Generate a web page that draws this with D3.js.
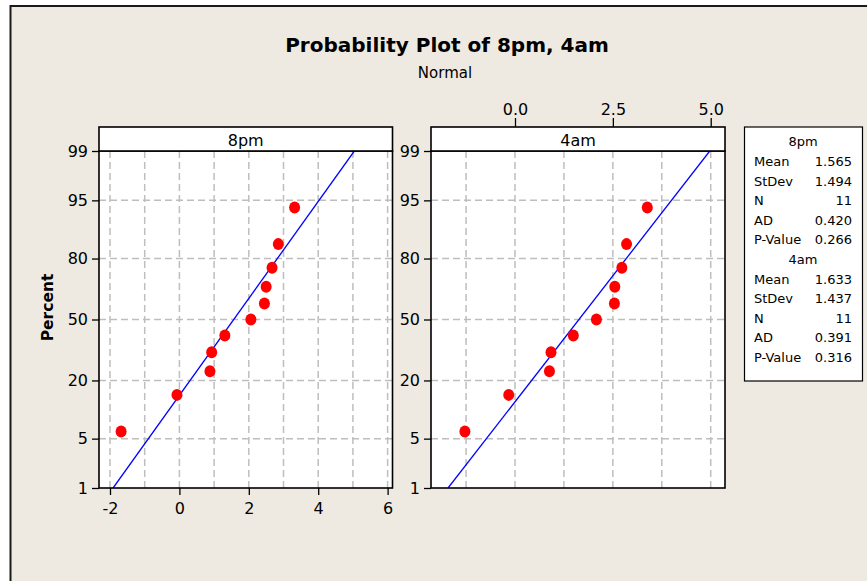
<!DOCTYPE html>
<html><head><meta charset="utf-8">
<script src="https://cdn.jsdelivr.net/npm/d3@7"></script>
<style>
body{margin:0;background:#fff}
svg{display:block;font-family:"DejaVu Sans",Verdana,sans-serif}
</style>
</head><body>
<svg id="c" width="867" height="581"></svg>
<script>
// ---------- data ----------
const panels = ["8pm", "4am"];
const values8pm = [-1.68, -0.07, 0.88, 0.93, 1.31, 2.06, 2.45, 2.50, 2.67, 2.85, 3.32];
const values4am = [-1.28, -0.16, 0.88, 0.92, 1.49, 2.08, 2.54, 2.55, 2.73, 2.85, 3.38];
const plotPercents = [6.1, 14.9, 23.7, 32.5, 41.2, 50, 58.8, 67.5, 76.3, 85.1, 93.9];
const percentTicks = [1, 5, 20, 50, 80, 95, 99];
const means = [1.565, 1.633];
const stdevs = [1.494, 1.437];
const statLabels = ["Mean", "StDev", "N", "AD", "P-Value"];
const stats8pm = ["1.565", "1.494", "11", "0.420", "0.266"];
const stats4am = ["1.633", "1.437", "11", "0.391", "0.316"];
const xTicks8pm = [-2, 0, 2, 4, 6];
const xTickLabels8pm = ["-2", "0", "2", "4", "6"];
const xGrid8pm = [-2, -1, 0, 1, 2, 3, 4, 5, 6];
const xTicks4am = [0, 2.5, 5];
const xTickLabels4am = ["0.0", "2.5", "5.0"];
const xGrid4am = [-1.25, 0, 1.25, 2.5, 3.75, 5];

// inverse normal CDF (Acklam)
function probit(p) {
  const a = [-3.969683028665376e+01, 2.209460984245205e+02, -2.759285104469687e+02, 1.383577518672690e+02, -3.066479806614716e+01, 2.506628277459239e+00];
  const b = [-5.447609879822406e+01, 1.615858368580409e+02, -1.556989798598866e+02, 6.680131188771972e+01, -1.328068155288572e+01];
  const c = [-7.784894002430293e-03, -3.223964580411365e-01, -2.400758277161838e+00, -2.549732539343734e+00, 4.374664141464968e+00, 2.938163982698783e+00];
  const d = [7.784695709041462e-03, 3.224671290700398e-01, 2.445134137142996e+00, 3.754408661907416e+00];
  const pl = 0.02425, ph = 1 - pl;
  let q, r;
  if (p < pl) { q = Math.sqrt(-2 * Math.log(p)); return (((((c[0]*q+c[1])*q+c[2])*q+c[3])*q+c[4])*q+c[5]) / ((((d[0]*q+d[1])*q+d[2])*q+d[3])*q+1); }
  if (p > ph) { q = Math.sqrt(-2 * Math.log(1 - p)); return -(((((c[0]*q+c[1])*q+c[2])*q+c[3])*q+c[4])*q+c[5]) / ((((d[0]*q+d[1])*q+d[2])*q+d[3])*q+1); }
  q = p - 0.5; r = q * q;
  return (((((a[0]*r+a[1])*r+a[2])*r+a[3])*r+a[4])*r+a[5])*q / (((((b[0]*r+b[1])*r+b[2])*r+b[3])*r+b[4])*r+1);
}

const svg = d3.select("#c");
const BG = "#EEEAE1";

// frame
svg.append("rect").attr("x", 10.5).attr("y", 6).attr("width", 880).attr("height", 600)
  .attr("fill", BG).attr("stroke", "#1a1a1a").attr("stroke-width", 2);

// titles
svg.append("text").attr("x", 447).attr("y", 52).attr("text-anchor", "middle")
  .attr("font-weight", "bold").attr("font-size", 20).text("Probability Plot of 8pm, 4am");
svg.append("text").attr("x", 445).attr("y", 78).attr("text-anchor", "middle")
  .attr("font-size", 15).text("Normal");

// y axis title
svg.append("text").attr("transform", "translate(52.5,307.5) rotate(-90)")
  .attr("text-anchor", "middle").attr("font-weight", "bold").attr("font-size", 15.5).text("Percent");

const plotTop = 151, plotBottom = 488, stripTop = 127;
const zScale = d3.scaleLinear().domain([probit(0.01), probit(0.99)]).range([plotBottom, plotTop]);
const yP = p => zScale(probit(p / 100));

const cfg = [
  { name: panels[0], values: values8pm, mean: means[0], sd: stdevs[0],
    x: d3.scaleLinear().domain([-2.317, 6.141]).range([99, 392.5]),
    grid: xGrid8pm, ticks: xTicks8pm, labels: xTickLabels8pm, axis: "bottom" },
  { name: panels[1], values: values4am, mean: means[1], sd: stdevs[1],
    x: d3.scaleLinear().domain([-2.146, 5.365]).range([431, 725]),
    grid: xGrid4am, ticks: xTicks4am, labels: xTickLabels4am, axis: "top" }
];

cfg.forEach((c, k) => {
  const [x0, x1] = c.x.range();
  const g = svg.append("g");
  g.append("rect").attr("x", x0).attr("y", plotTop).attr("width", x1 - x0).attr("height", plotBottom - plotTop).attr("fill", "#fff");
  // grid
  const gridStyle = s => s.attr("stroke", "#BEBEBE").attr("stroke-width", 1.5).attr("stroke-dasharray", "7,4");
  g.selectAll(".vg").data(c.grid).join("line")
    .attr("x1", d => c.x(d)).attr("x2", d => c.x(d)).attr("y1", plotTop).attr("y2", plotBottom).call(gridStyle);
  g.selectAll(".hg").data(percentTicks.filter(p => p > 1 && p < 99)).join("line")
    .attr("x1", x0).attr("x2", x1).attr("y1", d => yP(d)).attr("y2", d => yP(d)).call(gridStyle);
  // fit line
  const clipId = "clip" + k;
  svg.append("clipPath").attr("id", clipId).append("rect")
    .attr("x", x0).attr("y", plotTop).attr("width", x1 - x0).attr("height", plotBottom - plotTop);
  const zl = [probit(0.01), probit(0.99)];
  g.append("line").attr("clip-path", `url(#${clipId})`)
    .attr("x1", c.x(c.mean + c.sd * zl[0])).attr("y1", zScale(zl[0]))
    .attr("x2", c.x(c.mean + c.sd * zl[1])).attr("y2", zScale(zl[1]))
    .attr("stroke", "#0000FF").attr("stroke-width", 1.3);
  // points
  g.selectAll(".pt").data(c.values).join("ellipse")
    .attr("cx", d => c.x(d)).attr("cy", (d, i) => yP(plotPercents[i]))
    .attr("rx", 5.5).attr("ry", 6).attr("fill", "#FF0000");
  // border
  g.append("rect").attr("x", x0).attr("y", plotTop).attr("width", x1 - x0).attr("height", plotBottom - plotTop)
    .attr("fill", "none").attr("stroke", "#000").attr("stroke-width", 1.6);
  // strip
  g.append("rect").attr("x", x0).attr("y", stripTop).attr("width", x1 - x0).attr("height", plotTop - stripTop)
    .attr("fill", "#fff").attr("stroke", "#000").attr("stroke-width", 1.6);
  g.append("text").attr("x", (x0 + x1) / 2).attr("y", stripTop + 18.5).attr("text-anchor", "middle")
    .attr("font-size", 16).text(c.name);
  // y axis
  const ya = d3.axisLeft(zScale).tickValues(percentTicks.map(p => probit(p / 100)))
    .tickFormat((d, i) => percentTicks[i]).tickSize(7).tickPadding(4);
  const yg = g.append("g").attr("transform", `translate(${x0},0)`).call(ya);
  yg.select(".domain").remove();
  yg.selectAll("text").attr("font-size", 16).attr("font-family", "DejaVu Sans").attr("fill", "#000");
  yg.selectAll("line").attr("stroke", "#000").attr("stroke-width", 1.3);
  // x axis
  let xa, xg;
  const fmt = (d, i) => c.labels[i];
  if (c.axis === "bottom") {
    xa = d3.axisBottom(c.x).tickValues(c.ticks).tickFormat(fmt).tickSize(7).tickPadding(8);
    xg = g.append("g").attr("transform", `translate(0,${plotBottom})`).call(xa);
  } else {
    xa = d3.axisTop(c.x).tickValues(c.ticks).tickFormat(fmt).tickSize(9).tickPadding(3);
    xg = g.append("g").attr("transform", `translate(0,${stripTop})`).call(xa);
  }
  xg.select(".domain").remove();
  xg.selectAll("text").attr("font-size", 16).attr("font-family", "DejaVu Sans").attr("fill", "#000");
  xg.selectAll("line").attr("stroke", "#000").attr("stroke-width", 1.3);
});

// legend table
const lg = svg.append("g");
const lx0 = 744, lx1 = 862, ly0 = 127, ly1 = 381;
lg.append("rect").attr("x", lx0 + 0.5).attr("y", ly0).attr("width", lx1 - lx0).attr("height", ly1 - ly0)
  .attr("fill", "#fff").attr("stroke", "#000").attr("stroke-width", 1.2);
const rowH = 19.6;
let yy = 141.7;
[[panels[0], stats8pm], [panels[1], stats4am]].forEach(([name, vals]) => {
  lg.append("text").attr("x", 803).attr("y", yy + 4.7).attr("text-anchor", "middle").attr("font-size", 13).text(name);
  yy += rowH;
  statLabels.forEach((lab, i) => {
    lg.append("text").attr("x", 754).attr("y", yy + 4.7).attr("font-size", 13).text(lab);
    lg.append("text").attr("x", 852).attr("y", yy + 4.7).attr("text-anchor", "end").attr("font-size", 13).text(vals[i]);
    yy += rowH;
  });
});
</script>
</body></html>
